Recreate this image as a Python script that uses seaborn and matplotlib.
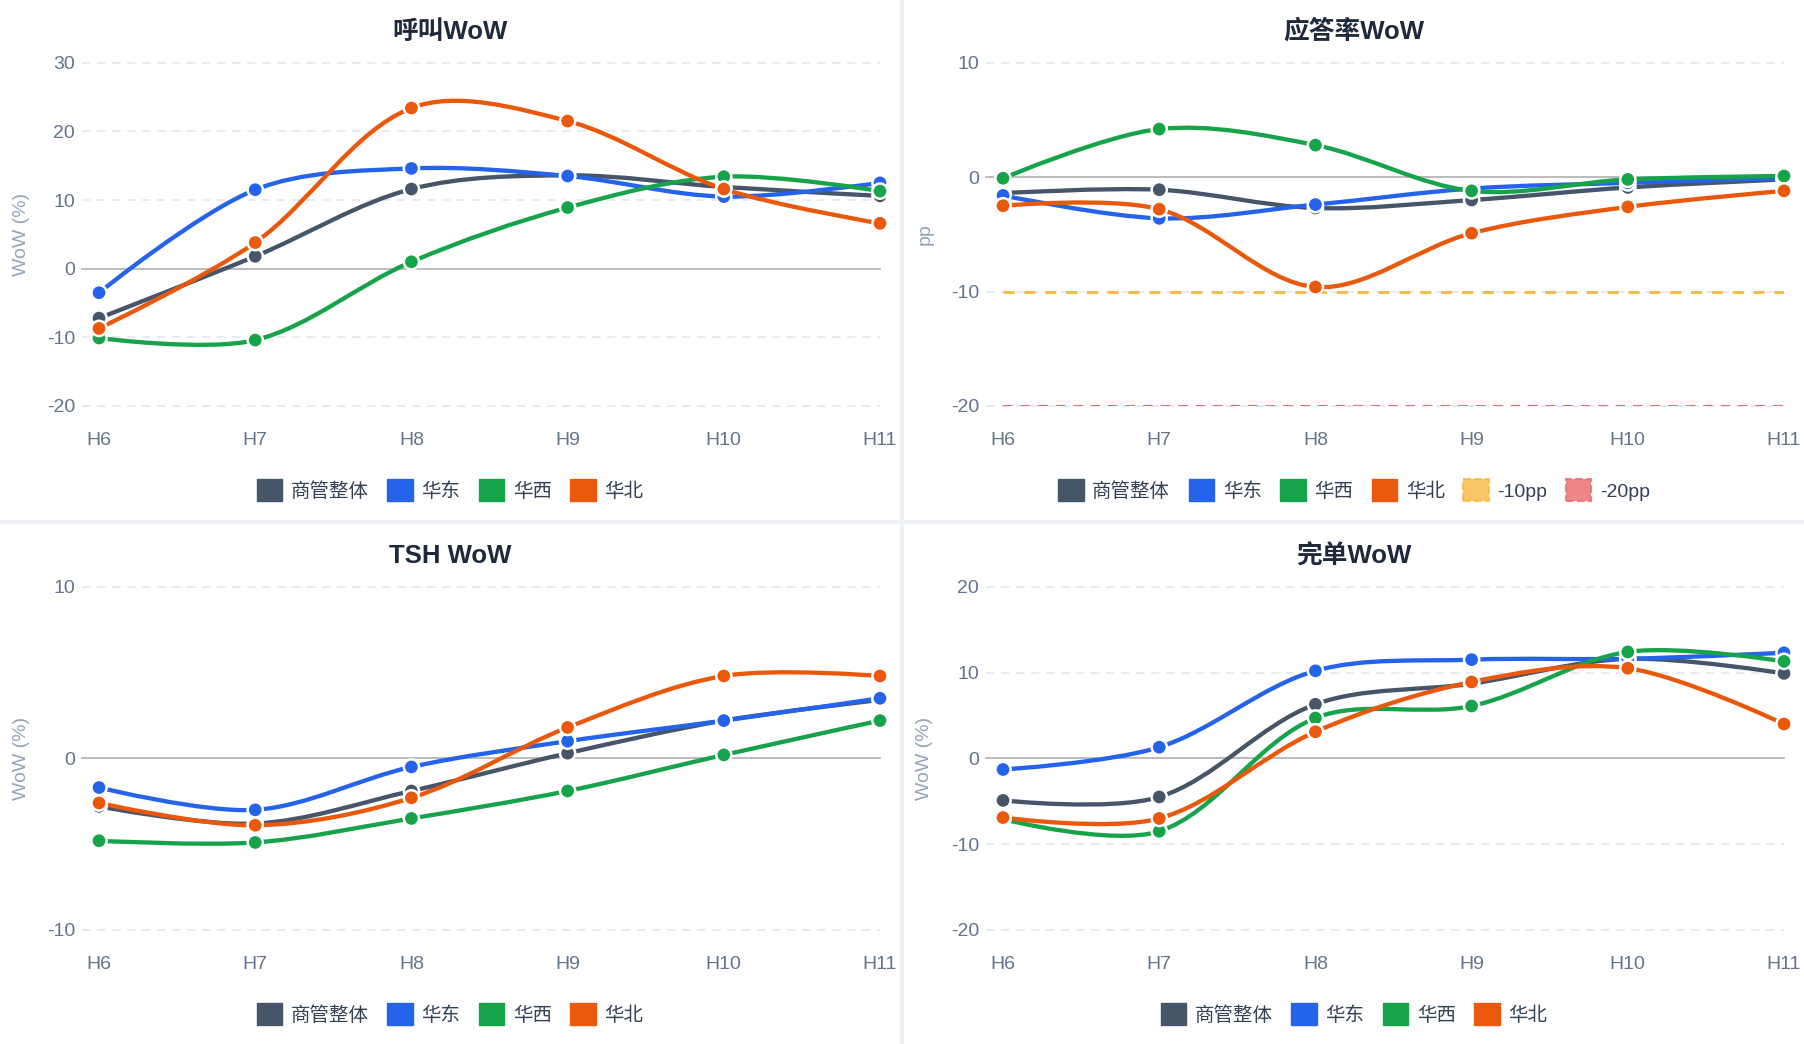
import matplotlib
matplotlib.use("Agg")
import matplotlib.pyplot as plt
from matplotlib.path import Path
from matplotlib.patches import PathPatch, Patch, Rectangle
import pandas as pd
import seaborn as sns

# ---- data ----
weeks = ["H6", "H7", "H8", "H9", "H10", "H11"]
series_names = ["商管整体", "华东", "华西", "华北"]
series_colors = ["#475569", "#2563eb", "#16a34a", "#ea580c"]

call_overall = [-7.2, 1.8, 11.6, 13.6, 11.9, 10.6]
call_east = [-3.5, 11.5, 14.6, 13.5, 10.5, 12.5]
call_west = [-10.1, -10.4, 1.0, 8.9, 13.4, 11.3]
call_north = [-8.7, 3.8, 23.4, 21.5, 11.6, 6.6]

answer_overall = [-1.4, -1.1, -2.7, -2.0, -0.9, -0.2]
answer_east = [-1.6, -3.6, -2.4, -1.0, -0.5, -0.1]
answer_west = [-0.1, 4.2, 2.8, -1.2, -0.2, 0.1]
answer_north = [-2.5, -2.8, -9.6, -4.9, -2.6, -1.2]
answer_thresholds = [-10, -20]
threshold_labels = ["-10pp", "-20pp"]

tsh_overall = [-2.8, -3.8, -1.9, 0.3, 2.2, 3.4]
tsh_east = [-1.7, -3.0, -0.5, 1.0, 2.2, 3.5]
tsh_west = [-4.8, -4.9, -3.5, -1.9, 0.2, 2.2]
tsh_north = [-2.6, -3.9, -2.3, 1.8, 4.8, 4.8]

done_overall = [-4.9, -4.5, 6.3, 8.7, 11.6, 9.9]
done_east = [-1.3, 1.3, 10.2, 11.5, 11.6, 12.3]
done_west = [-7.1, -8.5, 4.7, 6.1, 12.4, 11.3]
done_north = [-6.9, -7.0, 3.1, 8.9, 10.5, 4.0]

# ---- layout (pixels) ----
FIG_W, FIG_H = 1804, 1044
CARD_W, CARD_H, GAP = 900, 520, 4
AX_L, AX_R, AX_T, AX_B = 82, 880, 62.7, 406
X_LO = -0.109
SMOOTH = 0.33

TICK_COLOR = "#64748b"
LABEL_COLOR = "#94a3b8"
TEXT_COLOR = "#334155"
TITLE_COLOR = "#1e293b"


def px_box(left, top, right, bottom):
    return [left / FIG_W, 1 - bottom / FIG_H, (right - left) / FIG_W, (bottom - top) / FIG_H]


def smooth_path(values, sx, sy, smooth=SMOOTH):
    """Cubic bezier path through the points, echarts-style smoothing (in pixel space)."""
    pts = [(i * sx, v * sy) for i, v in enumerate(values)]
    verts = [pts[0]]
    codes = [Path.MOVETO]
    cp0 = pts[0]
    n = len(pts)
    for i in range(1, n):
        x, y = pts[i]
        px, py = pts[i - 1]
        if i == n - 1:
            cp1 = (x, y)
            next_cp0 = None
        else:
            nx, ny = pts[i + 1]
            vx, vy = nx - px, ny - py
            len_prev = ((x - px) ** 2 + (y - py) ** 2) ** 0.5
            len_next = ((nx - x) ** 2 + (ny - y) ** 2) ** 0.5
            ratio = len_next / (len_next + len_prev)
            cp1 = (x - vx * smooth * (1 - ratio), y - vy * smooth * (1 - ratio))
            next_cp0 = (x + vx * smooth * ratio, y + vy * smooth * ratio)
        verts += [cp0, cp1, (x, y)]
        codes += [Path.CURVE4] * 3
        cp0 = next_cp0
    return Path([(vx_ / sx, vy_ / sy) for vx_, vy_ in verts], codes)


def draw_panel(fig, col, row, title, series, ylim, ylabel, thresholds=None):
    ox = col * (CARD_W + GAP)
    oy = row * (CARD_H + GAP)

    fig.add_artist(Rectangle((ox / FIG_W, 1 - (oy + CARD_H) / FIG_H), CARD_W / FIG_W, CARD_H / FIG_H,
                             transform=fig.transFigure, facecolor="white", edgecolor="none", zorder=-5))

    ax = fig.add_axes(px_box(ox + AX_L, oy + AX_T, ox + AX_R, oy + AX_B))
    ax.set_facecolor("none")
    ax.set_xlim(X_LO, len(weeks) - 1)
    ax.set_ylim(*ylim)
    ticks = list(range(ylim[0], ylim[1] + 1, 10))
    ax.set_yticks(ticks)
    ax.set_xticks(range(len(weeks)))
    ax.set_xticklabels(weeks)
    ax.grid(False)
    for s in ax.spines.values():
        s.set_visible(False)
    ax.tick_params(length=0, labelsize=14, labelcolor=TICK_COLOR)
    ax.tick_params(axis="x", pad=19)
    ax.tick_params(axis="y", pad=5)

    for t in ticks:
        if t == 0:
            ax.axhline(0, color="#bdbdbd", lw=1.5, zorder=1, clip_on=False)
        else:
            ax.axhline(t, color="#e2e8f0", lw=1.2, ls=(0, (5, 4)), zorder=1, clip_on=False)

    handles = [Patch(facecolor=c, edgecolor=c) for c in series_colors]
    labels = list(series_names)
    if thresholds:
        for (val, color, lw, dash), lab in zip(thresholds, threshold_labels):
            ax.plot([0, len(weeks) - 1], [val, val], color=color, lw=lw, ls=(0, dash), zorder=2)
            handles.append(Patch(facecolor=color, edgecolor=color, alpha=0.8, ls="--", lw=1.5))
            labels.append(lab)

    # pixels per data unit, so the smoothing is done in screen space
    sx = (AX_R - AX_L) / (len(weeks) - 1 - X_LO)
    sy = (AX_B - AX_T) / (ylim[1] - ylim[0])
    for vals, color in zip(series, series_colors):
        ax.add_patch(PathPatch(smooth_path(vals, sx, sy), facecolor="none", edgecolor=color,
                               lw=3.1, capstyle="round", joinstyle="round", zorder=3))

    df = pd.DataFrame({
        "x": [i for _ in series for i in range(len(weeks))],
        "value": [v for vals in series for v in vals],
        "series": [name for name, vals in zip(series_names, series) for _ in vals],
    })
    sns.scatterplot(data=df, x="x", y="value", hue="series", hue_order=series_names,
                    palette=dict(zip(series_names, series_colors)), s=120, edgecolor="white",
                    linewidth=1.8, legend=False, ax=ax, zorder=4, clip_on=False)
    ax.set_xlabel("")
    ax.set_ylabel("")

    fig.text((ox + 21) / FIG_W, 1 - (oy + 234) / FIG_H, ylabel, rotation=90, ha="center", va="center",
             fontsize=14, color=LABEL_COLOR)
    fig.text((ox + CARD_W / 2) / FIG_W, 1 - (oy + 32) / FIG_H, title, ha="center", va="center",
             fontsize=18.5, fontweight="bold", color=TITLE_COLOR)
    leg = fig.legend(handles, labels, loc="center", bbox_to_anchor=((ox + CARD_W / 2) / FIG_W, 1 - (oy + 490) / FIG_H),
                     ncol=len(labels), frameon=False, fontsize=14, handlelength=1.3, handleheight=1.3,
                     handletextpad=0.45, columnspacing=0.95)
    for txt in leg.get_texts():
        txt.set_color(TEXT_COLOR)
    return ax


def main():
    sns.set_theme(style="white")
    plt.rcParams["font.family"] = ["Liberation Sans", "Noto Sans CJK SC", "DejaVu Sans"]
    plt.rcParams["axes.unicode_minus"] = False

    fig = plt.figure(figsize=(FIG_W / 100, FIG_H / 100), dpi=100)
    fig.patch.set_facecolor("#eef2f7")

    draw_panel(fig, 0, 0, "呼叫WoW", [call_overall, call_east, call_west, call_north], (-20, 30), "WoW (%)")
    draw_panel(fig, 1, 0, "应答率WoW", [answer_overall, answer_east, answer_west, answer_north], (-20, 10), "pp",
               thresholds=[(answer_thresholds[0], "#f8b73f", 2.0, (4, 3.5)),
                           (answer_thresholds[1], "#ea6a6a", 1.4, (5, 4))])
    draw_panel(fig, 0, 1, "TSH WoW", [tsh_overall, tsh_east, tsh_west, tsh_north], (-10, 10), "WoW (%)")
    draw_panel(fig, 1, 1, "完单WoW", [done_overall, done_east, done_west, done_north], (-20, 20), "WoW (%)")

    fig.savefig("out.png", dpi=100, facecolor=fig.get_facecolor())
    plt.close(fig)


if __name__ == "__main__":
    main()
